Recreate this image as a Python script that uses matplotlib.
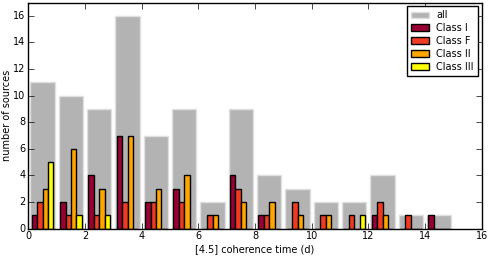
import numpy as np
import matplotlib
matplotlib.use("Agg")
import matplotlib.pyplot as plt

# counts per 1-day bin of [4.5] coherence time, bins 0..15 d
bin_edges = np.arange(0, 16, 1)
n_all = [11, 10, 9, 16, 7, 9, 2, 9, 4, 3, 2, 2, 4, 1, 1]
n_class1 = [1, 2, 4, 7, 2, 3, 0, 4, 1, 0, 0, 0, 1, 0, 1]
n_classF = [2, 1, 1, 2, 2, 2, 1, 3, 1, 2, 1, 1, 2, 1, 0]
n_class2 = [3, 6, 3, 7, 3, 4, 1, 2, 2, 1, 1, 0, 1, 0, 0]
n_class3 = [5, 1, 1, 0, 0, 0, 0, 0, 0, 0, 0, 1, 0, 0, 0]

labels = ["Class I", "Class F", "Class II", "Class III"]
colors = ["#990033", "#ee3b22", "#ffa500", "#ffff00"]

plt.style.use("classic")
plt.rcParams["font.size"] = 7
plt.rcParams["figure.facecolor"] = "white"
plt.rcParams["savefig.facecolor"] = "white"

fig = plt.figure(figsize=(4.9, 2.56), dpi=100)
ax = fig.add_axes([0.058, 0.107, 0.925, 0.883])

centers = bin_edges[:-1] + 0.5
ax.hist(centers, bins=bin_edges, weights=n_all, rwidth=0.86,
        color="0.7", edgecolor="0.88", linewidth=1, label="all")
ax.hist([centers] * 4, bins=bin_edges,
        weights=[n_class1, n_classF, n_class2, n_class3],
        rwidth=0.76, color=colors, edgecolor="black", linewidth=1, label=labels)

ax.set_xlim(0, 16)
ax.set_ylim(0, 17)
ax.set_xticks(np.arange(0, 17, 2))
ax.set_yticks(np.arange(0, 17, 2))
ax.set_xlabel("[4.5] coherence time (d)", labelpad=2)
ax.set_ylabel("number of sources", labelpad=1)
ax.tick_params(labelsize=7, pad=2)

leg = ax.legend(loc="upper right", fontsize=7, frameon=True, fancybox=False,
                handlelength=1.8, labelspacing=0.3, borderaxespad=0.4)
leg.get_frame().set_edgecolor("black")

fig.savefig("out.png", dpi=100)
